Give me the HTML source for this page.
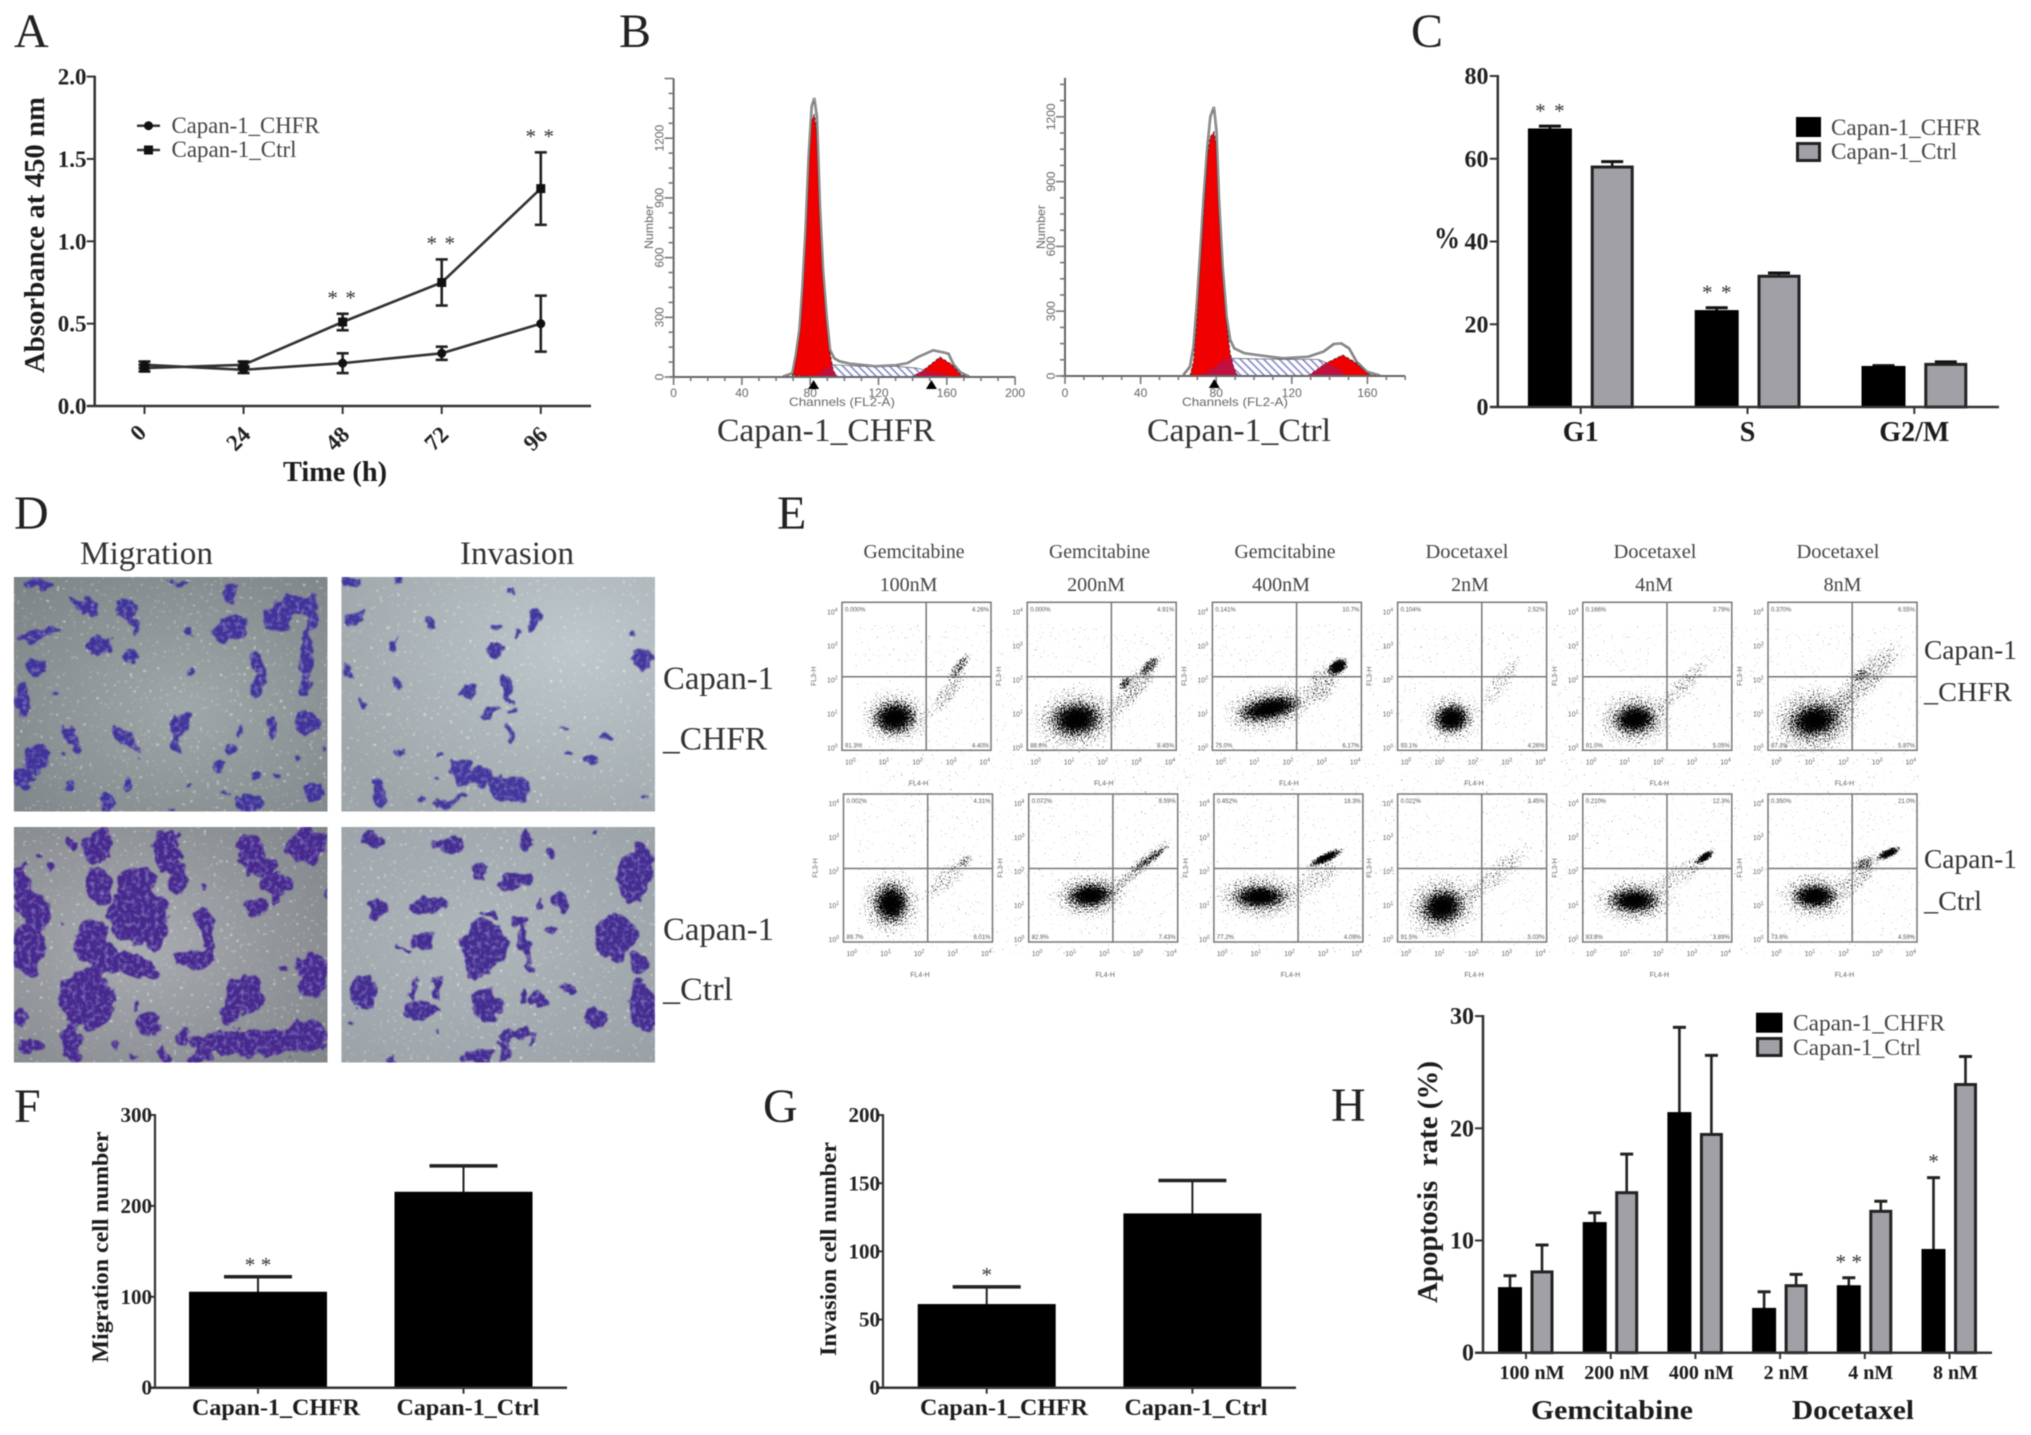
<!DOCTYPE html>
<html>
<head>
<meta charset="utf-8">
<title>Capan-1 CHFR figure</title>
<style>
html,body{margin:0;padding:0;background:#fff}
#figure{display:block;font-family:"Liberation Serif",serif;filter:blur(.45px)}
.letter{font-size:48px;fill:#222}
.bold{font-weight:bold;fill:#1c1c1c}
.tick{font-weight:bold;fill:#222;font-size:23px}
.legend{font-size:23px;fill:#444}
.big{font-size:33px;fill:#333}
.etitle{font-size:20px;fill:#444}
.small{font-family:"Liberation Sans",sans-serif;font-size:12px;fill:#666}
.tiny{font-family:"Liberation Sans",sans-serif;font-size:7px;fill:#666}
.pct{font-family:"Liberation Sans",sans-serif;font-size:6px;fill:#555}
.star{fill:#333;font-size:21px;text-anchor:middle}
</style>
</head>
<body>
<svg id="figure" width="2031" height="1435" viewBox="0 0 2031 1435">
<defs>
<pattern id="hatch" patternUnits="userSpaceOnUse" width="5.5" height="5.5" patternTransform="rotate(-45)">
<rect width="5.5" height="5.5" fill="#fff"/><line x1="1.5" y1="0" x2="1.5" y2="5.5" stroke="#7f7fcc" stroke-width="1.5"/>
</pattern>
<radialGradient id="dens"><stop offset="0" stop-color="#000" stop-opacity="1"/><stop offset=".5" stop-color="#000" stop-opacity=".92"/><stop offset="1" stop-color="#000" stop-opacity="0"/></radialGradient>
<filter id="grain" x="0" y="0" width="100%" height="100%" filterUnits="objectBoundingBox">
<feTurbulence type="fractalNoise" baseFrequency="0.75" numOctaves="2" seed="7" result="n"/>
<feComposite in="SourceAlpha" in2="n" operator="arithmetic" k1="0" k2=".45" k3="1" k4="-.76" result="d"/>
<feColorMatrix in="d" type="matrix" values="0 0 0 0 0  0 0 0 0 0  0 0 0 0 0  0 0 0 10 0"/>
<feGaussianBlur stdDeviation=".35"/>
</filter>
<filter id="specks" x="0" y="0" width="100%" height="100%">
<feTurbulence type="fractalNoise" baseFrequency="0.3" numOctaves="2" seed="11"/>
<feColorMatrix type="matrix" values="0 0 0 0 1  0 0 0 0 1  0 0 0 0 1  0 0 0 10 -6.9"/>
<feGaussianBlur stdDeviation=".4"/>
</filter>
<filter id="soft" x="-5%" y="-5%" width="110%" height="110%" color-interpolation-filters="sRGB">
<feTurbulence type="fractalNoise" baseFrequency=".07" numOctaves="3" seed="4" result="w"/>
<feDisplacementMap in="SourceGraphic" in2="w" scale="16" xChannelSelector="R" yChannelSelector="G" result="d"/>
<feGaussianBlur in="d" stdDeviation=".9" result="b"/>
<feTurbulence type="fractalNoise" baseFrequency=".22" numOctaves="2" seed="9"/>
<feColorMatrix type="matrix" values="0 0 0 0 .5  0 0 0 0 .45  0 0 0 0 .72  0 0 0 2.5 -1.15" result="m"/>
<feComposite in="m" in2="b" operator="atop"/>
</filter>
<radialGradient id="bgTL" cx=".55" cy=".55" r=".75"><stop offset="0" stop-color="#a0a7a9"/><stop offset="1" stop-color="#7d8487"/></radialGradient>
<radialGradient id="bgTR" cx=".75" cy=".3" r=".85"><stop offset="0" stop-color="#bfc8cc"/><stop offset="1" stop-color="#9ea6aa"/></radialGradient>
<radialGradient id="bgBL" cx=".4" cy=".5" r=".8"><stop offset="0" stop-color="#a9acb1"/><stop offset="1" stop-color="#7f8489"/></radialGradient>
<radialGradient id="bgBR" cx=".45" cy=".45" r=".8"><stop offset="0" stop-color="#b0b7bb"/><stop offset="1" stop-color="#98a0a6"/></radialGradient>
<clipPath id="clipTL"><rect x="13.8" y="577" width="313.7" height="234.5"/></clipPath>
<clipPath id="clipTR"><rect x="341.3" y="577" width="313.7" height="234.5"/></clipPath>
<clipPath id="clipBL"><rect x="13.8" y="827" width="313.7" height="235.5"/></clipPath>
<clipPath id="clipBR"><rect x="341.3" y="827" width="313.7" height="235.5"/></clipPath>
</defs>

<text class="letter" x="14" y="47">A</text>
<text class="letter" x="619" y="47">B</text>
<text class="letter" x="1411" y="47">C</text>
<text class="letter" x="14" y="529">D</text>
<text class="letter" x="777" y="529">E</text>
<text class="letter" x="14" y="1122">F</text>
<text class="letter" x="763" y="1122">G</text>
<text class="letter" x="1331" y="1121">H</text>

<!-- Panel A -->
<g id="panelA">
<text class="bold" font-size="28" text-anchor="middle" textLength="276" lengthAdjust="spacingAndGlyphs" transform="translate(44 235) rotate(-90)">Absorbance at 450 nm</text>
<text class="bold" font-size="28" text-anchor="middle" x="335" y="481" textLength="104" lengthAdjust="spacingAndGlyphs">Time (h)</text>
<g>
<line x1="137" x2="160" y1="125.7" y2="125.7" stroke="#333" stroke-width="2.5"/>
<circle cx="148.5" cy="125.7" r="4.5" fill="#111"/>
<text class="legend" x="171.5" y="133" textLength="148" lengthAdjust="spacingAndGlyphs">Capan-1_CHFR</text>
<line x1="137" x2="160" y1="150" y2="150" stroke="#333" stroke-width="2.5"/>
<rect x="144" y="145.5" width="9" height="9" fill="#111"/>
<text class="legend" x="171.5" y="157" textLength="125" lengthAdjust="spacingAndGlyphs">Capan-1_Ctrl</text>
</g>
</g>

<!-- Panel B -->
<g id="panelB">
<text class="small" text-anchor="middle" textLength="44" lengthAdjust="spacingAndGlyphs" transform="translate(653 227) rotate(-90)">Number</text>
<text class="small" x="842" y="406" text-anchor="middle" textLength="106" lengthAdjust="spacingAndGlyphs">Channels (FL2-A)</text>
<text class="big" x="826" y="441" text-anchor="middle" textLength="218" lengthAdjust="spacingAndGlyphs">Capan-1_CHFR</text>
<text class="small" text-anchor="middle" textLength="44" lengthAdjust="spacingAndGlyphs" transform="translate(1045 227) rotate(-90)">Number</text>
<text class="small" x="1235" y="406" text-anchor="middle" textLength="106" lengthAdjust="spacingAndGlyphs">Channels (FL2-A)</text>
<text class="big" x="1239" y="441" text-anchor="middle" textLength="184" lengthAdjust="spacingAndGlyphs">Capan-1_Ctrl</text>
</g>

<!-- Panel C -->
<g id="panelC">
<text class="bold" x="1434" y="248" font-size="31" textLength="26" lengthAdjust="spacingAndGlyphs">%</text>
<g>
<rect x="1796" y="117" width="25" height="20" fill="#000"/>
<text class="legend" x="1831" y="135" textLength="150" lengthAdjust="spacingAndGlyphs">Capan-1_CHFR</text>
<rect x="1797.5" y="143.5" width="22" height="17" fill="#a0a0a6" stroke="#222" stroke-width="3"/>
<text class="legend" x="1831" y="159" textLength="126" lengthAdjust="spacingAndGlyphs">Capan-1_Ctrl</text>
</g>
</g>

<!-- Panel D -->
<g id="panelD">
<text class="big" x="146.5" y="564" text-anchor="middle" textLength="133" lengthAdjust="spacingAndGlyphs">Migration</text>
<text class="big" x="517" y="564" text-anchor="middle" textLength="114" lengthAdjust="spacingAndGlyphs">Invasion</text>
<text class="big" x="663" y="689" textLength="111" lengthAdjust="spacingAndGlyphs">Capan-1</text>
<text class="big" x="663" y="749.5" textLength="104" lengthAdjust="spacingAndGlyphs">_CHFR</text>
<text class="big" x="663" y="940" textLength="111" lengthAdjust="spacingAndGlyphs">Capan-1</text>
<text class="big" x="663" y="1000" textLength="70" lengthAdjust="spacingAndGlyphs">_Ctrl</text>
</g>

<!-- Panel E -->
<g id="panelE">
<text class="etitle" x="914" y="558" text-anchor="middle" textLength="101" lengthAdjust="spacingAndGlyphs">Gemcitabine</text>
<text class="etitle" x="908.5" y="591" text-anchor="middle">100nM</text>
<text class="etitle" x="1099.5" y="558" text-anchor="middle" textLength="101" lengthAdjust="spacingAndGlyphs">Gemcitabine</text>
<text class="etitle" x="1096" y="591" text-anchor="middle">200nM</text>
<text class="etitle" x="1285" y="558" text-anchor="middle" textLength="101" lengthAdjust="spacingAndGlyphs">Gemcitabine</text>
<text class="etitle" x="1281" y="591" text-anchor="middle">400nM</text>
<text class="etitle" x="1467" y="558" text-anchor="middle" textLength="83" lengthAdjust="spacingAndGlyphs">Docetaxel</text>
<text class="etitle" x="1470" y="591" text-anchor="middle">2nM</text>
<text class="etitle" x="1655" y="558" text-anchor="middle" textLength="83" lengthAdjust="spacingAndGlyphs">Docetaxel</text>
<text class="etitle" x="1654" y="591" text-anchor="middle">4nM</text>
<text class="etitle" x="1838" y="558" text-anchor="middle" textLength="83" lengthAdjust="spacingAndGlyphs">Docetaxel</text>
<text class="etitle" x="1842.5" y="591" text-anchor="middle">8nM</text>
<text class="big" style="font-size:27px" x="1924" y="659" textLength="93" lengthAdjust="spacingAndGlyphs">Capan-1</text>
<text class="big" style="font-size:27px" x="1924" y="701" textLength="88" lengthAdjust="spacingAndGlyphs">_CHFR</text>
<text class="big" style="font-size:27px" x="1924" y="868" textLength="93" lengthAdjust="spacingAndGlyphs">Capan-1</text>
<text class="big" style="font-size:27px" x="1924" y="910" textLength="58" lengthAdjust="spacingAndGlyphs">_Ctrl</text>
</g>

<!-- Panel F -->
<g id="panelF">
<text class="bold" font-size="23" text-anchor="middle" textLength="231" lengthAdjust="spacingAndGlyphs" transform="translate(108 1247) rotate(-90)">Migration cell number</text>
</g>
<!-- Panel G -->
<g id="panelG">
<text class="bold" font-size="23" text-anchor="middle" textLength="214" lengthAdjust="spacingAndGlyphs" transform="translate(836 1249) rotate(-90)">Invasion cell number</text>
</g>
<!-- Panel H -->
<g id="panelH">
<text class="bold" font-size="29" text-anchor="middle" textLength="242" lengthAdjust="spacingAndGlyphs" style="white-space:pre" transform="translate(1437 1182) rotate(-90)">Apoptosis  rate (%)</text>
<text class="bold" font-size="27" x="1612" y="1419" text-anchor="middle" textLength="162" lengthAdjust="spacingAndGlyphs">Gemcitabine</text>
<text class="bold" font-size="27" x="1853" y="1419" text-anchor="middle" textLength="122" lengthAdjust="spacingAndGlyphs">Docetaxel</text>
<g>
<rect x="1756" y="1012.7" width="26.5" height="20" fill="#000"/>
<text class="legend" x="1793" y="1030.5" textLength="152" lengthAdjust="spacingAndGlyphs">Capan-1_CHFR</text>
<rect x="1757.5" y="1038.5" width="23.5" height="17" fill="#a0a0a6" stroke="#222" stroke-width="3"/>
<text class="legend" x="1793" y="1055" textLength="128" lengthAdjust="spacingAndGlyphs">Capan-1_Ctrl</text>
</g>
</g>
</svg>

<script>
/* ---------- Panel A data ---------- */
const aHours=[0,24,48,72,96];
const aChfr=[0.25,0.22,0.26,0.32,0.50];
const aChfrErr=[0.02,0.02,0.06,0.04,0.17];
const aCtrl=[0.23,0.25,0.51,0.75,1.32];
const aCtrlErr=[0.02,0.02,0.05,0.14,0.22];
const aSig=['','','**','**','**'];
const aYTicks=[0,0.5,1,1.5,2];

/* ---------- Panel B data (channel / count) ---------- */
const b1XTicks=[0,40,80,120,160,200];
const b1YTicks=[0,300,600,900,1200];
const b1TotalChan=[64.2,69.6,71.6,73.7,75.5,77.3,79.1,80.9,82.4,83.9,85.7,87.5,89.6,91.6,94,97,103,109,118,130,137,143,152,158,161,164,168,173];
const b1TotalCount=[3,20,112,238,456,740,1109,1360,1402,1310,858,539,305,137,95,79,67,62,54,59,70,100,134,124,117,62,23,3];
const b1G1Chan=[69.6,71.6,73.7,75.5,77.3,79.1,80.9,82.4,83.9,85.7,87.5,89.6,91.6,93.4,95.5];
const b1G1Count=[7,95,221,439,724,1059,1293,1318,1226,807,506,288,121,37,0];
const b1SChan=[78,85,92.5,109,130,142,154,166];
const b1SCount=[0,15,62,54,54,45,20,0];
const b1G2Chan=[139,145,156,163,168,172];
const b1G2Count=[0,25,100,62,12,0];
const b1Markers=[82,151];
const b2XTicks=[0,40,80,120,160];
const b2YTicks=[0,300,600,900,1200];
const b2TotalChan=[62.6,66.1,68,69.9,71.5,73.4,75.3,76.9,78.8,80.1,81.5,83.4,85.5,87.4,89.6,95,101.7,115.2,128.7,136.8,142.2,146.2,150.3,154.3,159.7,166.5];
const b2TotalCount=[5,43,136,352,567,830,1061,1200,1246,1138,814,506,274,167,128,105,97,82,89,113,148,151,128,66,20,3];
const b2G1Chan=[66.1,68,69.9,71.5,73.4,75.3,76.9,78.8,80.1,81.5,83.4,85.5,87.4,89.6,91.5];
const b2G1Count=[0,66,274,506,752,1015,1107,1130,1061,752,460,244,105,28,0];
const b2SChan=[69,73.4,78.8,85.5,115.2,134,141,150.3];
const b2SCount=[0,10,40,82,77,77,51,0];
const b2G2Chan=[128.7,138,147,153,161,163];
const b2G2Count=[0,59,97,66,9,0];
const b2Markers=[79];

/* ---------- Panel C data ---------- */
const cCategories=['G1','S','G2/M'];
const cChfr=[67.2,23.3,9.8];
const cChfrErr=[0.7,0.7,0.2];
const cCtrl=[58,31.6,10.3];
const cCtrlErr=[1.3,0.8,0.6];
const cSig=['**','**',''];
const cYTicks=[0,20,40,60,80];

/* ---------- Panel E data: density blobs [xLog,yLog,rx,ry,angle,alpha] ---------- */
const eDensityChfr=[
 [[1.42,.88,.85,.7,0,.5],[1.42,.88,.52,.4,-5,1],[2.83,1.53,.75,.22,-50,.38],[3.15,2.26,.42,.14,-50,.65]],
 [[1.32,.84,1.1,.8,-5,.5],[1.32,.84,.62,.42,-5,1],[2.9,1.72,.95,.3,-50,.42],[3.29,2.29,.32,.14,-45,.7],[2.63,1.83,.2,.13,-45,.75]],
 [[1.53,1.13,1.15,.6,-12,.5],[1.53,1.13,.78,.28,-12,1],[2.96,1.8,.55,.4,-60,.42],[3.37,2.26,.3,.2,-35,1]],
 [[1.45,.86,.75,.65,0,.45],[1.45,.86,.44,.36,-10,1],[2.73,1.8,.9,.25,-55,.32]],
 [[1.4,.84,.95,.7,0,.5],[1.4,.84,.52,.36,-5,1],[2.75,1.8,1,.25,-45,.35]],
 [[1.26,.81,1.1,.85,-10,.55],[1.26,.81,.62,.4,-10,1],[2.68,1.98,1.2,.4,-45,.42],[2.5,2.03,.2,.14,-40,.5]]
];
const eDensityCtrl=[
 [[1.28,1.04,.75,.85,0,.5],[1.28,1.04,.42,.47,0,1],[2.8,1.75,.8,.3,-45,.35],[3.29,2.2,.22,.12,-40,.45]],
 [[1.65,1.26,.95,.6,-5,.5],[1.65,1.26,.56,.3,-5,1],[2.99,2.03,1,.2,-42,.42],[3.26,2.25,.6,.1,-35,.65]],
 [[1.24,1.22,1.1,.6,0,.5],[1.24,1.22,.64,.28,0,1],[2.79,1.77,.7,.4,-35,.32],[3.01,2.28,.5,.13,-25,.9]],
 [[1.2,.95,.95,.8,-15,.5],[1.2,.95,.52,.42,-15,1],[2.68,1.85,1.05,.3,-40,.35]],
 [[1.38,1.12,1,.6,0,.5],[1.38,1.12,.6,.3,0,1],[2.64,1.85,.8,.3,-30,.32],[3.28,2.3,.3,.12,-35,.9]],
 [[1.26,1.24,.9,.6,0,.5],[1.26,1.24,.54,.3,0,1],[2.47,1.85,.7,.35,-50,.38],[2.58,2.12,.25,.15,-30,.55],[3.24,2.4,.35,.13,-25,.9]]
];
const eQuadChfr=[['0.000%','4.26%','91.3%','4.40%'],['0.000%','4.91%','88.6%','8.45%'],['0.141%','10.7%','75.0%','6.17%'],['0.104%','2.52%','93.1%','4.26%'],['0.166%','3.79%','91.0%','5.05%'],['0.370%','6.55%','87.2%','5.87%']];
const eQuadCtrl=[['0.002%','4.31%','89.7%','6.01%'],['0.072%','9.59%','82.9%','7.43%'],['0.452%','18.3%','77.2%','4.09%'],['0.022%','3.45%','91.5%','5.03%'],['0.210%','12.3%','83.6%','3.89%'],['0.350%','21.0%','73.6%','4.59%']];
const eDecades=[0,1,2,3,4];

/* ---------- Panel F / G data ---------- */
const fgCategories=['Capan-1_CHFR','Capan-1_Ctrl'];
const fValues=[105,215];
const fErr=[17,29];
const fSig=['**',''];
const fYTicks=[0,100,200,300];
const gValues=[61,127.5];
const gErr=[13,24.5];
const gSig=['*',''];
const gYTicks=[0,50,100,150,200];

/* ---------- Panel H data ---------- */
const hCategories=['100 nM','200 nM','400 nM','2 nM','4 nM','8 nM'];
const hChfr=[5.8,11.6,21.4,3.95,5.97,9.2];
const hChfrErr=[1.06,.87,7.6,1.48,.71,6.4];
const hCtrl=[7.2,14.26,19.45,5.97,12.6,23.9];
const hCtrlErr=[2.4,3.44,7.05,1.01,.9,2.5];
const hSig=['','','','','**','*'];
const hYTicks=[0,10,20,30];

/* ---------- Panel D micrograph cell shapes, [x,y,rx,ry,angle] ---------- */
const dCellsTL=[[75,245,30,15,0],[160,300,35,12,35],[175,310,12,30,-20],[245,310,22,25,20],[262,350,8,25,-10],[350,240,20,8,0],[452,270,14,25,0],[450,360,30,35,0],[545,340,28,35,0],[580,300,40,25,0],[610,330,10,60,5],[600,440,12,70,5],[600,520,12,30,10],[75,380,40,14,-15],[195,408,24,22,0],[257,436,14,12,30],[70,460,18,26,-15],[365,375,7,14,0],[505,450,12,40,-20],[505,510,18,35,15],[375,472,7,12,10],[45,550,18,40,0],[103,528,8,8,0],[600,610,22,35,0],[355,620,14,40,20],[345,640,10,60,-5],[240,640,30,14,40],[265,670,8,25,-25],[140,650,10,45,-25],[75,700,25,35,30],[45,750,25,25,0],[535,625,10,30,0],[470,628,6,12,30],[452,675,8,20,30],[430,725,14,12,0],[500,750,10,16,0],[545,745,8,8,0],[250,770,10,10,0],[135,775,15,10,-30],[210,815,14,25,0],[490,820,25,25,0],[615,790,15,30,0],[585,705,6,12,-30],[440,792,12,4,20],[120,685,6,6,0],[632,680,6,12,0],[330,830,10,6,0],[370,778,5,6,0]];
const dCellsTR=[[690,245,18,18,0],[775,242,8,6,0],[1000,262,10,10,0],[695,335,16,14,-30],[848,352,12,14,30],[1048,340,12,35,20],[975,355,8,9,0],[1010,380,5,14,0],[768,403,6,20,15],[973,418,12,20,0],[1243,370,8,12,0],[1258,445,25,20,0],[1258,460,8,18,0],[678,470,6,24,-20],[778,503,10,12,0],[920,525,14,24,-20],[993,515,10,40,-15],[960,580,22,10,-40],[1005,570,8,8,0],[710,562,8,14,-20],[995,640,8,26,0],[1105,627,10,5,0],[1190,640,14,10,0],[1158,705,14,16,20],[1118,680,5,5,0],[782,687,8,10,0],[862,687,8,7,0],[905,740,20,38,-10],[945,750,25,25,0],[1000,780,40,40,0],[745,800,14,30,-15],[740,768,8,12,0],[828,800,10,7,0],[853,755,5,8,0],[880,815,35,10,-20],[1263,798,4,6,0]];
const dCellsBL=[[45,1050,20,70,-10],[75,1105,25,45,0],[55,1200,32,70,0],[190,930,30,45,0],[140,925,12,14,0],[330,945,28,65,-20],[348,1020,18,35,0],[195,1040,25,55,0],[270,1040,35,60,0],[270,1110,60,70,0],[300,1150,30,50,0],[180,1170,35,50,0],[200,1220,50,40,20],[265,1245,45,30,20],[170,1330,55,80,0],[140,1440,20,50,0],[490,940,28,40,0],[600,930,40,45,0],[510,985,30,25,0],[545,1025,32,28,0],[500,1090,28,20,0],[540,1060,8,25,0],[400,1130,14,40,-25],[380,1225,40,28,0],[410,1170,10,40,0],[610,1265,30,60,0],[480,1320,40,50,0],[450,1370,12,30,0],[290,1395,28,30,0],[360,1425,12,25,0],[500,1445,130,35,0],[600,1430,40,45,0],[400,1470,30,20,-20],[60,1450,22,20,0],[40,1380,14,20,0],[225,1445,8,12,0],[145,1470,20,26,0],[325,1475,10,15,0],[46,980,6,6,0],[98,985,8,10,0],[78,955,6,8,0],[396,1042,6,12,-20],[635,1060,5,15,0],[555,1250,6,10,0],[120,1135,5,5,0],[265,1350,5,8,0],[265,1478,10,6,20]];
const dCellsBR=[[730,915,25,25,0],[880,925,28,18,0],[1030,915,12,25,0],[1165,895,6,8,0],[1248,1000,32,80,10],[1078,950,8,14,20],[940,1000,14,12,0],[1010,1025,38,22,-15],[738,1095,18,25,0],[840,1085,42,18,-15],[1097,1075,12,30,0],[1058,1080,5,15,-25],[960,1110,14,10,0],[1015,1125,15,15,0],[1205,1165,42,60,0],[830,1180,25,20,0],[790,1195,14,5,20],[950,1190,45,60,0],[935,1250,20,30,0],[1030,1190,10,55,-15],[1040,1250,10,10,0],[1080,1145,12,10,0],[710,1310,30,50,0],[825,1360,30,25,0],[810,1310,8,30,15],[858,1295,7,30,10],[955,1345,30,40,0],[1055,1335,22,20,0],[1022,1320,8,25,0],[1115,1305,14,14,0],[1168,1375,20,30,-25],[1260,1350,24,70,-15],[1250,1240,18,30,0],[1015,1420,35,10,-15],[1045,1430,7,20,0],[990,1460,14,30,0],[935,1480,30,18,0],[690,1390,6,6,0],[855,1415,4,12,0],[770,1490,15,8,20]];

/* ---------- helpers ---------- */
const root=document.getElementById('figure');
const NS=root.namespaceURI;
function mk(parent,tag,attrs,text){
  const el=document.createElementNS(NS,tag);
  for(const k in attrs) el.setAttribute(k,attrs[k]);
  if(text!==undefined) el.textContent=text;
  parent.appendChild(el);
  return el;
}
function line(parent,x1,y1,x2,y2,color,w){
  const el=mk(parent,'line',{x1:x1,y1:y1,x2:x2,y2:y2,stroke:color,'stroke-width':w});
  
  return el;
}
function stars(parent,cx,y,sig,spacing){
  for(let j=0;j<sig.length;j++){
    const el=mk(parent,'text',{class:'star',x:cx+(j-(sig.length-1)/2)*spacing,y:y+10},'*');
    
    
  }
}
function errorBar(parent,x,yTop,yBase,capW,color,w,capT){
  const stem=line(parent,x,yBase,x,yTop,color,w);
  
  const cap=line(parent,x-capW/2,yTop,x+capW/2,yTop,color,capT);
  
}
function bar(parent,cx,w,yTop,yBase,fill,stroke,sw){
  const el=mk(parent,'rect',{x:cx-w/2+sw/2,y:yTop,width:w-sw,height:yBase-yTop,fill:fill,stroke:stroke,'stroke-width':sw});
  
  return el;
}
function yAxis(parent,x,yFn,ticks,tickLen,labelX,labelOffset,fmt,fontSize,prefix){
  for(const t of ticks){
    const m=line(parent,x-tickLen,yFn(t),x,yFn(t),'#333',2);
    
    const lab=mk(parent,'text',{class:'tick',x:labelX,y:yFn(t)+labelOffset,'text-anchor':'end','font-size':fontSize,style:'font-size:'+fontSize+'px'},fmt(t));
    
    
  }
}
const pts=(chan,count,xf,yf)=>chan.map((c,i)=>xf(c)+','+yf(count[i])).join(' ');

/* ---------- Panel A ---------- */
(function(){
  const g=document.getElementById('panelA');
  const xA=h=>144.5+h*4.128;
  const yA=v=>406-v*164.7;
  const ax=line(g,94.7,yA(2)-1,94.7,407,'#333',2.5);
  
  const ax2=line(g,87,406,591,406,'#333',2.5);
  
  yAxis(g,94.7,yA,aYTicks,8,86.5,8,v=>v.toFixed(1),23,'a');
  aHours.forEach(h=>{
    const m=line(g,xA(h),406,xA(h),414,'#333',2);
    
    const t=mk(g,'text',{class:'tick','text-anchor':'middle',transform:'translate('+(xA(h)+(h?0:-1))+' '+(h?444:438)+') rotate(-45)'},String(h));
    
    
  });
  const l1=mk(g,'polyline',{points:aHours.map((h,i)=>xA(h)+','+yA(aChfr[i])).join(' '),fill:'none',stroke:'#333','stroke-width':2.6});
  
  
  const l2=mk(g,'polyline',{points:aHours.map((h,i)=>xA(h)+','+yA(aCtrl[i])).join(' '),fill:'none',stroke:'#333','stroke-width':2.6});
  
  
  aHours.forEach((h,i)=>{
    errorBar(g,xA(h),yA(aChfr[i]+aChfrErr[i]),yA(aChfr[i]-aChfrErr[i]),12,'#222',2.6,2.6);
    line(g,xA(h)-6,yA(aChfr[i]-aChfrErr[i]),xA(h)+6,yA(aChfr[i]-aChfrErr[i]),'#222',2.6);
    errorBar(g,xA(h),yA(aCtrl[i]+aCtrlErr[i]),yA(aCtrl[i]-aCtrlErr[i]),12,'#222',2.6,2.6);
    line(g,xA(h)-6,yA(aCtrl[i]-aCtrlErr[i]),xA(h)+6,yA(aCtrl[i]-aCtrlErr[i]),'#222',2.6);
    const p1=mk(g,'circle',{cx:xA(h),cy:yA(aChfr[i]),r:4.5,fill:'#111'});
    
    
    const p2=mk(g,'rect',{x:xA(h)-4.5,y:yA(aCtrl[i])-4.5,width:9,height:9,fill:'#111'});
    
    
    stars(g,xA(h)-1,yA(aCtrl[i]+aCtrlErr[i])-19,aSig[i],18);
  });
})();

/* ---------- Panel B ---------- */
function histogram(id,xB,yB,maxCount,xMax,xTicks,yTicks,total,g1,s,g2,markers){
  const g=document.getElementById('panelB');
  const base=yB(0);
  const clipS=mk(root.querySelector('defs'),'clipPath',{id:'clipS'+id});
  mk(clipS,'polygon',{points:pts(s[0],s[1],xB,yB)});
  const sp=mk(g,'polygon',{points:pts(s[0],s[1],xB,yB),fill:'url(#hatch)',stroke:'#666','stroke-width':.8});
  
  
  const g1p=mk(g,'polygon',{points:pts(g1[0],g1[1],xB,yB),fill:'#f00000',stroke:'#333','stroke-width':1,'stroke-dasharray':'3 2'});
  
  
  const g2p=mk(g,'polygon',{points:pts(g2[0],g2[1],xB,yB),fill:'#f00000',stroke:'#333','stroke-width':1,'stroke-dasharray':'3 2'});
  
  
  const o1=mk(g,'polygon',{points:pts(g1[0],g1[1],xB,yB),fill:'#c0103f','clip-path':'url(#clipS'+id+')'});
  
  
  const o2=mk(g,'polygon',{points:pts(g2[0],g2[1],xB,yB),fill:'#c0103f','clip-path':'url(#clipS'+id+')'});
  
  
  const tot=mk(g,'polyline',{points:pts(total[0],total[1],xB,yB),fill:'none',stroke:'#555','stroke-width':2.3});
  
  
  const totInner=mk(g,'polyline',{points:pts(total[0],total[1],xB,yB),fill:'none',stroke:'#fff','stroke-width':.5});
  
  
  const ya=line(g,xB(0),yB(maxCount),xB(0),base,'#666',2);
  
  const xa=line(g,xB(0)-4,base,xB(xMax),base,'#666',2);
  
  for(let n=0;n<=maxCount;n+=75){
    const major=n%300===0;
    line(g,xB(0)-(major?9:5),yB(n),xB(0),yB(n),'#777',1.6);
  }
  for(let c=0;c<=xMax;c+=10){
    const major=c%40===0;
    line(g,xB(c),base,xB(c),base+(major?8:4),'#777',1.6);
  }
  xTicks.forEach(c=>{
    const t=mk(g,'text',{class:'small',x:xB(c),y:397,'text-anchor':'middle'},String(c));
    
    
  });
  yTicks.forEach(n=>{
    const t=mk(g,'text',{class:'small','text-anchor':'middle',transform:'translate('+(xB(0)-10)+' '+yB(n)+') rotate(-90)'},String(n));
    
    
  });
  markers.forEach(c=>{
    const x=xB(c),y=base;
    const m=mk(g,'polygon',{points:[x,y+3,x+5.5,y+12,x-5.5,y+12].join(' '),fill:'#000'});
    
    
  });
}
histogram('b1',c=>673.6+c*1.7075,n=>377-n*.199,1500,200,b1XTicks,b1YTicks,[b1TotalChan,b1TotalCount],[b1G1Chan,b1G1Count],[b1SChan,b1SCount],[b1G2Chan,b1G2Count],b1Markers);
histogram('b2',c=>1065+c*1.89,n=>376-n*.216,1380,180,b2XTicks,b2YTicks,[b2TotalChan,b2TotalCount],[b2G1Chan,b2G1Count],[b2SChan,b2SCount],[b2G2Chan,b2G2Count],b2Markers);

/* ---------- Panel C ---------- */
(function(){
  const g=document.getElementById('panelC');
  const yC=v=>407-v*4.1375;
  const xC=i=>1580.7+i*166.8;
  yAxis(g,1497.8,yC,cYTicks,8,1488.5,8,v=>String(v),24,'c');
  cCategories.forEach((cat,i)=>{
    errorBar(g,xC(i)-30.8,yC(cChfr[i]+cChfrErr[i]),yC(cChfr[i]),22,'#111',2.5,3);
    errorBar(g,xC(i)+31.5,yC(cCtrl[i]+cCtrlErr[i]),yC(cCtrl[i]),22,'#111',2.5,3);
    const b1=bar(g,xC(i)-30.8,44,yC(cChfr[i]),407,'#000','#000',1);
    
    const b2=bar(g,xC(i)+31.5,43,yC(cCtrl[i]),407,'#a0a0a6','#222',3);
    
    stars(g,xC(i)-30.8,yC(cChfr[i]+cChfrErr[i])-18,cSig[i],19);
    const m=line(g,xC(i),407,xC(i),414,'#333',2);
    
    const t=mk(g,'text',{class:'bold','font-size':28,x:xC(i),y:441,'text-anchor':'middle'},cat);
    
    
  });
  const ya=line(g,1497.8,75,1497.8,408,'#333',2.5);
  
  const xa=line(g,1490,407,1999,407,'#333',2.5);
  
})();

/* ---------- Panel D ---------- */
(function(){
  const g=document.getElementById('panelD');
  const images=[['tl','url(#bgTL)','url(#clipTL)',13.8,577,dCellsTL,'#3f3399'],['tr','url(#bgTR)','url(#clipTR)',341.3,577,dCellsTR,'#42379c'],['bl','url(#bgBL)','url(#clipBL)',13.8,827,dCellsBL,'#47298e'],['br','url(#bgBR)','url(#clipBR)',341.3,827,dCellsBR,'#432d90']];
  images.forEach(im=>{
    const grp=mk(g,'g',{'clip-path':im[2]});
    
    
    const bg=mk(grp,'rect',{x:im[3],y:im[4],width:313.7,height:236,fill:im[1]});
    
    
    const sp=mk(grp,'rect',{x:im[3],y:im[4],width:313.7,height:236,fill:'#fff',filter:'url(#specks)',opacity:.6});
    
    
    const cells=mk(grp,'g',{fill:im[6],filter:'url(#soft)'});
    
    
    im[5].forEach(c=>{
      const x=c[0]/1.96,y=490+c[1]/2.613;
      const e=mk(cells,'ellipse',{cx:x,cy:y,rx:c[2]/1.96,ry:c[3]/2.613,transform:'rotate('+c[4]+' '+x+' '+y+')'});
      
      
    });
  });
})();

/* ---------- Panel E ---------- */
(function(){
  const g=document.getElementById('panelE');
  const frameX=(c,r)=>842+c*185.2+(r&&c<3?1.5:0);
  const frameY=r=>602.3+r*191.7;
  const W=149,H=148;
  const xE=(c,r,l)=>frameX(c,r)+l*W/4;
  const yE=(r,l)=>frameY(r)+H-l*H/4;
  const grainG=mk(g,'g',{filter:'url(#grain)'});
  
  
  const coreG=mk(g,'g',{});
  
  
  [eDensityChfr,eDensityCtrl].forEach((rowData,r)=>{
    rowData.forEach((blobs,c)=>{
      blobs.forEach(b=>{
        const cx=xE(c,r,b[0]),cy=yE(r,b[1]);
        const e=mk(grainG,'ellipse',{cx:cx,cy:cy,rx:b[2]*37.25*1.25,ry:b[3]*37*1.25,fill:'url(#dens)','fill-opacity':b[5],transform:'rotate('+b[4]+' '+cx+' '+cy+')'});
        
        
        if(b[5]>=.85){
          const k=mk(coreG,'ellipse',{cx:cx,cy:cy,rx:b[2]*37.25*.8,ry:b[3]*37*.8,fill:'url(#dens)',transform:'rotate('+b[4]+' '+cx+' '+cy+')'});
          
          
        }
      });
    });
  });
  [eQuadChfr,eQuadCtrl].forEach((rowQuad,r)=>{
    rowQuad.forEach((q,c)=>{
      const x0=frameX(c,r),y0=frameY(r);
      const p=mk(g,'g',{});
      
      
      const fr=mk(p,'rect',{x:x0,y:y0,width:W,height:H,fill:'none',stroke:'#777','stroke-width':1.5});
      
      
      line(p,x0+W*.565,y0,x0+W*.565,y0+H,'#777',1.5);
      line(p,x0,y0+H*.503,x0+W,y0+H*.503,'#777',1.5);
      const q1=mk(p,'text',{class:'pct',x:x0+3,y:y0+9},q[0]);
      
      
      const q2=mk(p,'text',{class:'pct',x:x0+W-2,y:y0+9,'text-anchor':'end'},q[1]);
      
      
      const q3=mk(p,'text',{class:'pct',x:x0+3,y:y0+H-3},q[2]);
      
      
      const q4=mk(p,'text',{class:'pct',x:x0+W-2,y:y0+H-3,'text-anchor':'end'},q[3]);
      
      
      eDecades.forEach(d=>{
        const tx=mk(p,'text',{class:'tiny',x:x0+3+d*33.6,y:y0+H+14},'10');
        
        
        const sx=mk(tx,'tspan',{dy:-3,'font-size':5},String(d));
        
        
        const ty=mk(p,'text',{class:'tiny',x:x0-15,y:y0+H-d*34},'10');
        
        
        const sy=mk(ty,'tspan',{dy:-3,'font-size':5},String(d));
        
        
      });
      const xl=mk(p,'text',{class:'tiny',x:x0+W/2+2,y:y0+H+35,'text-anchor':'middle'},'FL4-H');
      
      
      const yl=mk(p,'text',{class:'tiny','text-anchor':'middle',transform:'translate('+(x0-26)+' '+(y0+H/2)+') rotate(-90)'},'FL3-H');
      
      
    });
  });
})();

/* ---------- Panels F & G ---------- */
function simpleBars(id,axisX,axisEnd,tickX,yFn,values,errs,sig,yTicks,labelX){
  const g=document.getElementById(id==='f'?'panelF':'panelG');
  const base=yFn(0);
  yAxis(g,axisX,yFn,yTicks,4,axisX-3,7,v=>String(v),21,id);
  fgCategories.forEach((cat,i)=>{
    errorBar(g,tickX(i),yFn(values[i]+errs[i]),yFn(values[i]),68,'#222',2,3.5);
    const b=bar(g,tickX(i),138,yFn(values[i]),base,'#000','#000',1);
    
    stars(g,tickX(i),yFn(values[i]+errs[i])-15,sig[i],16);
    const m=line(g,tickX(i),base,tickX(i),base+6,'#333',2);
    
    const t=mk(g,'text',{class:'bold','font-size':23,x:labelX(i),y:1415,'text-anchor':'middle',textLength:i?143:168,lengthAdjust:'spacingAndGlyphs'},cat);
    
    
  });
  const ya=line(g,axisX,yFn(yTicks[yTicks.length-1])-1,axisX,base+1,'#333',2.2);
  
  const xa=line(g,axisX-4,base,axisEnd,base,'#333',2.5);
  
}
simpleBars('f',155,567,i=>258+i*205.5,v=>1387.7-v*.909,fValues,fErr,fSig,fYTicks,i=>276+i*192);
simpleBars('g',883,1296,i=>986.7+i*205.7,v=>1387.7-v*1.363,gValues,gErr,gSig,gYTicks,i=>1004+i*192);

/* ---------- Panel H ---------- */
(function(){
  const g=document.getElementById('panelH');
  const yH=v=>1352.7-v*11.22;
  const xH=i=>1526+i*84.7;
  yAxis(g,1483,yH,hYTicks,8,1474,8,v=>String(v),24,'h');
  hCategories.forEach((cat,i)=>{
    errorBar(g,xH(i)-16,yH(hChfr[i]+hChfrErr[i]),yH(hChfr[i]),13,'#222',2.6,3);
    errorBar(g,xH(i)+16,yH(hCtrl[i]+hCtrlErr[i]),yH(hCtrl[i]),13,'#222',2.6,3);
    const b1=bar(g,xH(i)-16,24,yH(hChfr[i]),1352.7,'#000','#000',1);
    
    const b2=bar(g,xH(i)+16,23,yH(hCtrl[i]),1352.7,'#a0a0a6','#222',3);
    
    stars(g,xH(i)-16,yH(hChfr[i]+hChfrErr[i])-19,hSig[i],16);
    const m=line(g,xH(i),1352.7,xH(i),1359,'#333',2);
    
    const t=mk(g,'text',{class:'bold','font-size':20,x:xH(i)+6,y:1379,'text-anchor':'middle'},cat);
    
    
  });
  const ya=line(g,1483,1015,1483,1354,'#333',2.5);
  
  const xa=line(g,1475,1352.7,1992,1352.7,'#333',2.5);
  
})();
</script>
</body>
</html>
